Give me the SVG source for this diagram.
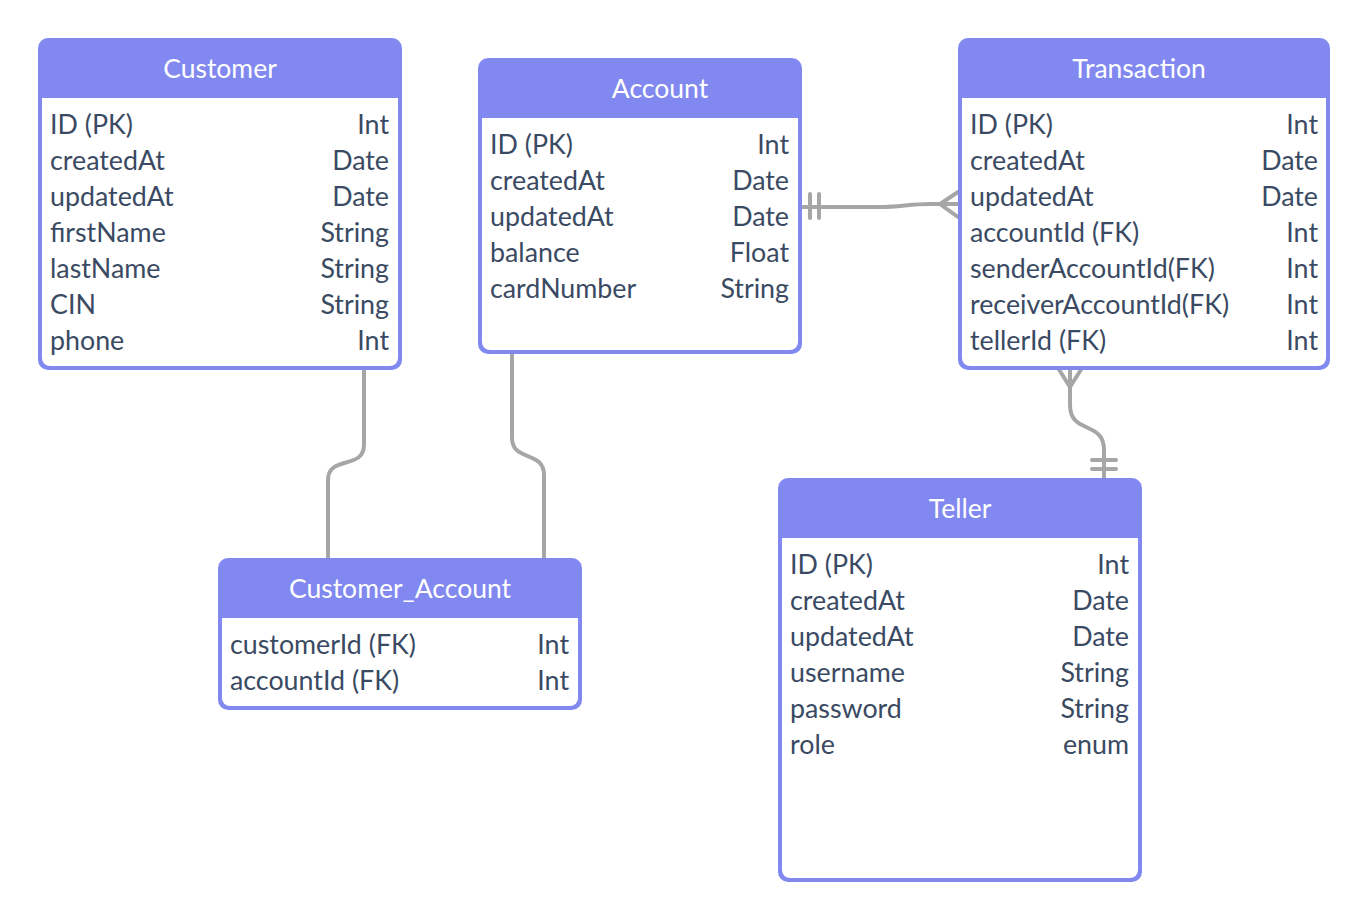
<svg xmlns="http://www.w3.org/2000/svg" width="1369" height="920" viewBox="0 0 1369 920">
<style>
.box{fill:#8189f0}
.body{fill:#ffffff}
.title{font-family:Lato,"Liberation Sans",sans-serif;font-size:26.5px;fill:#ffffff;text-anchor:middle}
.f{font-family:Lato,"Liberation Sans",sans-serif;font-size:26.8px;fill:#3a4a63}
.r{text-anchor:end}
.c{fill:none;stroke:#a6a6a6;stroke-width:4;stroke-linecap:round}
</style>
<rect width="1369" height="920" fill="#ffffff"/>
<g id="connectors">
<path class="c" d="M802 207 L880 207 C900 207 910 204 930 204 L958 204"/>
<path class="c" d="M810 194 V218 M819 194 V218"/>
<path class="c" d="M958 192 L940 204 L958 217"/>
<path class="c" d="M1070 370 V405 C1070 435 1104 420 1104 450 V478"/>
<path class="c" d="M1058 368 L1070 387 L1082 368 M1070 368 V387"/>
<path class="c" d="M1092 460 H1116 M1092 469 H1116"/>
<path class="c" d="M364 370 V445 C364 470 328 455 328 480 V558"/>
<path class="c" d="M512 354 V438 C512 462 544 450 544 475 V558"/>
</g>
<g id="customer">
<rect class="box" x="38" y="38" width="364" height="332" rx="10"/>
<path class="body" d="M42 98 H398 V358 A8 8 0 0 1 390 366 H50 A8 8 0 0 1 42 358 Z"/>
<text class="title" x="220" y="78">Customer</text>
<text class="f" x="50" y="134">ID (PK)</text><text class="f r" x="389" y="134">Int</text>
<text class="f" x="50" y="170">createdAt</text><text class="f r" x="389" y="170">Date</text>
<text class="f" x="50" y="206">updatedAt</text><text class="f r" x="389" y="206">Date</text>
<text class="f" x="50" y="242">firstName</text><text class="f r" x="389" y="242">String</text>
<text class="f" x="50" y="278">lastName</text><text class="f r" x="389" y="278">String</text>
<text class="f" x="50" y="314">CIN</text><text class="f r" x="389" y="314">String</text>
<text class="f" x="50" y="350">phone</text><text class="f r" x="389" y="350">Int</text>
</g>
<g id="account">
<rect class="box" x="478" y="58" width="324" height="296" rx="10"/>
<path class="body" d="M482 118 H798 V342 A8 8 0 0 1 790 350 H490 A8 8 0 0 1 482 342 Z"/>
<text class="title" x="660" y="98">Account</text>
<text class="f" x="490" y="154">ID (PK)</text><text class="f r" x="789" y="154">Int</text>
<text class="f" x="490" y="190">createdAt</text><text class="f r" x="789" y="190">Date</text>
<text class="f" x="490" y="226">updatedAt</text><text class="f r" x="789" y="226">Date</text>
<text class="f" x="490" y="262">balance</text><text class="f r" x="789" y="262">Float</text>
<text class="f" x="490" y="298">cardNumber</text><text class="f r" x="789" y="298">String</text>
</g>
<g id="transaction">
<rect class="box" x="958" y="38" width="372" height="332" rx="10"/>
<path class="body" d="M962 98 H1326 V358 A8 8 0 0 1 1318 366 H970 A8 8 0 0 1 962 358 Z"/>
<text class="title" x="1139" y="78">Transaction</text>
<text class="f" x="970" y="134">ID (PK)</text><text class="f r" x="1318" y="134">Int</text>
<text class="f" x="970" y="170">createdAt</text><text class="f r" x="1318" y="170">Date</text>
<text class="f" x="970" y="206">updatedAt</text><text class="f r" x="1318" y="206">Date</text>
<text class="f" x="970" y="242">accountId (FK)</text><text class="f r" x="1318" y="242">Int</text>
<text class="f" x="970" y="278">senderAccountId(FK)</text><text class="f r" x="1318" y="278">Int</text>
<text class="f" x="970" y="314">receiverAccountId(FK)</text><text class="f r" x="1318" y="314">Int</text>
<text class="f" x="970" y="350">tellerId (FK)</text><text class="f r" x="1318" y="350">Int</text>
</g>
<g id="customer_account">
<rect class="box" x="218" y="558" width="364" height="152" rx="10"/>
<path class="body" d="M222 618 H578 V698 A8 8 0 0 1 570 706 H230 A8 8 0 0 1 222 698 Z"/>
<text class="title" x="400" y="598">Customer_Account</text>
<text class="f" x="230" y="654">customerId (FK)</text><text class="f r" x="569" y="654">Int</text>
<text class="f" x="230" y="690">accountId (FK)</text><text class="f r" x="569" y="690">Int</text>
</g>
<g id="teller">
<rect class="box" x="778" y="478" width="364" height="404" rx="10"/>
<path class="body" d="M782 538 H1138 V870 A8 8 0 0 1 1130 878 H790 A8 8 0 0 1 782 870 Z"/>
<text class="title" x="960" y="518">Teller</text>
<text class="f" x="790" y="574">ID (PK)</text><text class="f r" x="1129" y="574">Int</text>
<text class="f" x="790" y="610">createdAt</text><text class="f r" x="1129" y="610">Date</text>
<text class="f" x="790" y="646">updatedAt</text><text class="f r" x="1129" y="646">Date</text>
<text class="f" x="790" y="682">username</text><text class="f r" x="1129" y="682">String</text>
<text class="f" x="790" y="718">password</text><text class="f r" x="1129" y="718">String</text>
<text class="f" x="790" y="754">role</text><text class="f r" x="1129" y="754">enum</text>
</g>
</svg>
